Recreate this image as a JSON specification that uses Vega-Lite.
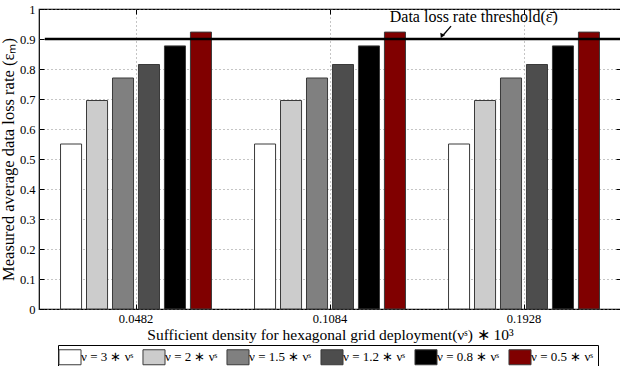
{
  "$schema": "https://vega.github.io/schema/vega-lite/v6.json",
  "width": 582,
  "height": 300,
  "autosize": {"type": "none"},
  "padding": {"left": 39, "top": 9, "right": 0, "bottom": 57},
  "background": "white",
  "config": {
    "font": "Liberation Serif",
    "view": {"stroke": "black", "strokeWidth": 1.2},
    "axis": {
      "domain": false,
      "tickColor": "black",
      "tickSize": -5,
      "labelFont": "Liberation Serif",
      "labelFontSize": 12.5,
      "labelColor": "black",
      "titleFont": "Liberation Serif",
      "titleFontWeight": "normal",
      "titleColor": "black",
      "gridColor": "#8a8a8a",
      "gridDash": [1, 3],
      "gridOpacity": 1
    }
  },
  "data": {
    "values": [
      {"density": "0.0482", "nu": "ν = 3 ∗ νˢ", "rate": 0.550},
      {"density": "0.0482", "nu": "ν = 2 ∗ νˢ", "rate": 0.695},
      {"density": "0.0482", "nu": "ν = 1.5 ∗ νˢ", "rate": 0.770},
      {"density": "0.0482", "nu": "ν = 1.2 ∗ νˢ", "rate": 0.815},
      {"density": "0.0482", "nu": "ν = 0.8 ∗ νˢ", "rate": 0.877},
      {"density": "0.0482", "nu": "ν = 0.5 ∗ νˢ", "rate": 0.923},
      {"density": "0.1084", "nu": "ν = 3 ∗ νˢ", "rate": 0.550},
      {"density": "0.1084", "nu": "ν = 2 ∗ νˢ", "rate": 0.695},
      {"density": "0.1084", "nu": "ν = 1.5 ∗ νˢ", "rate": 0.770},
      {"density": "0.1084", "nu": "ν = 1.2 ∗ νˢ", "rate": 0.815},
      {"density": "0.1084", "nu": "ν = 0.8 ∗ νˢ", "rate": 0.877},
      {"density": "0.1084", "nu": "ν = 0.5 ∗ νˢ", "rate": 0.923},
      {"density": "0.1928", "nu": "ν = 3 ∗ νˢ", "rate": 0.550},
      {"density": "0.1928", "nu": "ν = 2 ∗ νˢ", "rate": 0.695},
      {"density": "0.1928", "nu": "ν = 1.5 ∗ νˢ", "rate": 0.770},
      {"density": "0.1928", "nu": "ν = 1.2 ∗ νˢ", "rate": 0.815},
      {"density": "0.1928", "nu": "ν = 0.8 ∗ νˢ", "rate": 0.877},
      {"density": "0.1928", "nu": "ν = 0.5 ∗ νˢ", "rate": 0.923}
    ]
  },
  "resolve": {
    "scale": {"x": "independent"},
    "axis": {"x": "independent", "y": "independent"}
  },
  "layer": [
    {
      "mark": {"type": "bar", "stroke": "#3a3a3a", "strokeWidth": 1},
      "encoding": {
        "x": {
          "field": "density",
          "type": "nominal",
          "scale": {"type": "band", "paddingInner": 0.222, "paddingOuter": 0.111},
          "axis": {
            "orient": "bottom",
            "labelAngle": 0,
            "grid": true,
            "bandPosition": 0.5,
            "labelPadding": 8,
            "title": "Sufficient density for hexagonal grid deployment(νˢ) ∗ 10³",
            "titleFontSize": 15.5,
            "titlePadding": 3
          }
        },
        "xOffset": {
          "field": "nu",
          "type": "nominal",
          "sort": ["ν = 3 ∗ νˢ", "ν = 2 ∗ νˢ", "ν = 1.5 ∗ νˢ", "ν = 1.2 ∗ νˢ", "ν = 0.8 ∗ νˢ", "ν = 0.5 ∗ νˢ"],
          "scale": {"paddingInner": 0.19, "paddingOuter": 0}
        },
        "y": {
          "field": "rate",
          "type": "quantitative",
          "scale": {"domain": [0, 1], "nice": false},
          "axis": {
            "orient": "left",
            "values": [0, 0.1, 0.2, 0.3, 0.4, 0.5, 0.6, 0.7, 0.8, 0.9, 1],
            "format": "~g",
            "grid": true,
            "labelPadding": 9,
            "title": "Measured average data loss rate (εₘ)",
            "titleFontSize": 16.5,
            "titlePadding": 3
          }
        },
        "color": {
          "field": "nu",
          "type": "nominal",
          "sort": ["ν = 3 ∗ νˢ", "ν = 2 ∗ νˢ", "ν = 1.5 ∗ νˢ", "ν = 1.2 ∗ νˢ", "ν = 0.8 ∗ νˢ", "ν = 0.5 ∗ νˢ"],
          "scale": {"range": ["#ffffff", "#cccccc", "#808080", "#4d4d4d", "#000000", "#800000"]},
          "legend": {
            "title": null,
            "orient": "none",
            "legendX": 19,
            "legendY": 336,
            "direction": "horizontal",
            "columns": 6,
            "columnPadding": 6,
            "strokeColor": "black",
            "padding": 4,
            "symbolType": "M-1.47,-1H1.47V1H-1.47Z",
            "symbolSize": 225,
            "symbolStrokeColor": "#3a3a3a",
            "symbolStrokeWidth": 1,
            "symbolOpacity": 1,
            "labelFont": "Liberation Serif",
            "labelFontSize": 13,
            "labelFontStyle": "normal",
            "labelColor": "black",
            "labelOffset": 3
          }
        }
      }
    },
    {
      "mark": {"type": "point", "opacity": 0},
      "encoding": {
        "x": {
          "field": "density",
          "type": "nominal",
          "scale": {"type": "band", "paddingInner": 0.222, "paddingOuter": 0.111},
          "axis": {"orient": "top", "labels": false, "title": null, "grid": false, "bandPosition": 0.5}
        },
        "y": {
          "field": "rate",
          "type": "quantitative",
          "axis": {
            "orient": "right",
            "labels": false,
            "title": null,
            "grid": false,
            "values": [0, 0.1, 0.2, 0.3, 0.4, 0.5, 0.6, 0.7, 0.8, 0.9, 1]
          }
        }
      }
    },
    {
      "layer": [
        {
          "data": {"values": [{"label": "threshold"}]},
          "mark": {"type": "rule", "color": "black", "strokeWidth": 2.5},
          "encoding": {
            "x": {"datum": 0.01, "type": "quantitative", "scale": {"domain": [0, 1]}, "axis": null},
            "x2": {"datum": 1},
            "y": {"datum": 0.9, "type": "quantitative", "axis": null}
          }
        },
        {
          "data": {"values": [{"label": "Data loss rate threshold(ε̄)"}]},
          "mark": {"type": "text", "fontSize": 16, "fontWeight": "normal", "color": "black", "font": "Liberation Serif"},
          "encoding": {
            "x": {"datum": 0.747, "type": "quantitative", "scale": {"domain": [0, 1]}, "axis": null},
            "y": {"datum": 0.973, "type": "quantitative", "axis": null},
            "text": {"field": "label"}
          }
        },
        {
          "data": {"values": [{"ax": 0.708, "ay": 0.943}, {"ax": 0.695, "ay": 0.914}]},
          "mark": {"type": "line", "color": "black", "strokeWidth": 1.3},
          "encoding": {
            "x": {"field": "ax", "type": "quantitative", "scale": {"domain": [0, 1]}, "axis": null},
            "y": {"field": "ay", "type": "quantitative", "axis": null}
          }
        },
        {
          "data": {"values": [{"label": "arrowhead"}]},
          "mark": {"type": "point", "shape": "triangle-down", "filled": true, "color": "black", "opacity": 1, "size": 28, "angle": 24},
          "encoding": {
            "x": {"datum": 0.692, "type": "quantitative", "scale": {"domain": [0, 1]}, "axis": null},
            "y": {"datum": 0.91, "type": "quantitative", "axis": null}
          }
        }
      ]
    }
  ]
}
